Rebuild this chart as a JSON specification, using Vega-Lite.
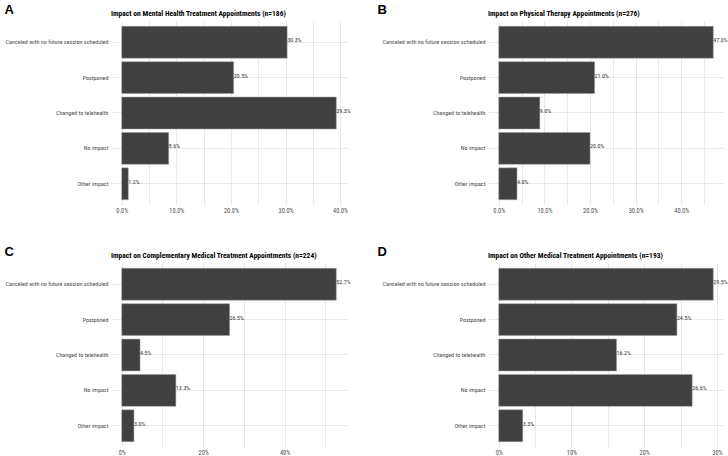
{
  "$schema": "https://vega.github.io/schema/vega-lite/v6.json",
  "background": "white",
  "padding": {"left": 4, "top": 3, "right": 2, "bottom": 2},
  "data": {"values": [
    {"panel": "A", "impact": "Canceled with no future session scheduled", "pct": 0.303},
    {"panel": "A", "impact": "Postponed", "pct": 0.205},
    {"panel": "A", "impact": "Changed to telehealth", "pct": 0.393},
    {"panel": "A", "impact": "No impact", "pct": 0.086},
    {"panel": "A", "impact": "Other impact", "pct": 0.012},
    {"panel": "B", "impact": "Canceled with no future session scheduled", "pct": 0.470},
    {"panel": "B", "impact": "Postponed", "pct": 0.210},
    {"panel": "B", "impact": "Changed to telehealth", "pct": 0.090},
    {"panel": "B", "impact": "No impact", "pct": 0.200},
    {"panel": "B", "impact": "Other impact", "pct": 0.040},
    {"panel": "C", "impact": "Canceled with no future session scheduled", "pct": 0.527},
    {"panel": "C", "impact": "Postponed", "pct": 0.265},
    {"panel": "C", "impact": "Changed to telehealth", "pct": 0.045},
    {"panel": "C", "impact": "No impact", "pct": 0.133},
    {"panel": "C", "impact": "Other impact", "pct": 0.030},
    {"panel": "D", "impact": "Canceled with no future session scheduled", "pct": 0.295},
    {"panel": "D", "impact": "Postponed", "pct": 0.245},
    {"panel": "D", "impact": "Changed to telehealth", "pct": 0.162},
    {"panel": "D", "impact": "No impact", "pct": 0.266},
    {"panel": "D", "impact": "Other impact", "pct": 0.033}
  ]},
  "bounds": "flush",
  "columns": 2,
  "spacing": {"row": 58, "column": 141},
  "concat": [
    {
      "width": 236, "height": 184,
      "transform": [{"filter": "datum.panel == 'A'"}],
      "title": {"text": "Impact on Mental Health Treatment Appointments (n=186)"},
      "encoding": {
        "y": {"field": "impact", "type": "nominal", "sort": ["Canceled with no future session scheduled", "Postponed", "Changed to telehealth", "No impact", "Other impact"], "scale": {"paddingInner": 0.1, "paddingOuter": 0.15}, "axis": {"title": "A", "titleX": -107, "titleY": -8}},
        "x": {"field": "pct", "type": "quantitative", "scale": {"domain": [-0.01965, 0.41265], "nice": false, "zero": false}, "axis": {"title": null, "format": ".1%", "values": [0, 0.05, 0.1, 0.15, 0.2, 0.25, 0.3, 0.35, 0.4], "labelExpr": "round(datum.value*100) % 10 == 0 ? datum.label : ''"}}
      },
      "layer": [
        {"mark": {"type": "bar", "fill": "#404040", "stroke": "#9a9a9a", "strokeWidth": 0.5}},
        {"mark": {"type": "text", "align": "left", "baseline": "middle", "dy": -2}, "encoding": {"text": {"field": "pct", "type": "quantitative", "format": ".1%"}}}
      ]
    },
    {
      "width": 236, "height": 184,
      "transform": [{"filter": "datum.panel == 'B'"}],
      "title": {"text": "Impact on Physical Therapy Appointments (n=276)"},
      "encoding": {
        "y": {"field": "impact", "type": "nominal", "sort": ["Canceled with no future session scheduled", "Postponed", "Changed to telehealth", "No impact", "Other impact"], "scale": {"paddingInner": 0.1, "paddingOuter": 0.15}, "axis": {"title": "B", "titleX": -111, "titleY": -8}},
        "x": {"field": "pct", "type": "quantitative", "scale": {"domain": [-0.0235, 0.4935], "nice": false, "zero": false}, "axis": {"title": null, "format": ".1%", "values": [0, 0.05, 0.1, 0.15, 0.2, 0.25, 0.3, 0.35, 0.4, 0.45], "labelExpr": "round(datum.value*100) % 10 == 0 ? datum.label : ''"}}
      },
      "layer": [
        {"mark": {"type": "bar", "fill": "#404040", "stroke": "#9a9a9a", "strokeWidth": 0.5}},
        {"mark": {"type": "text", "align": "left", "baseline": "middle", "dy": -2}, "encoding": {"text": {"field": "pct", "type": "quantitative", "format": ".1%"}}}
      ]
    },
    {
      "width": 236, "height": 184,
      "transform": [{"filter": "datum.panel == 'C'"}],
      "title": {"text": "Impact on Complementary Medical Treatment Appointments (n=224)"},
      "encoding": {
        "y": {"field": "impact", "type": "nominal", "sort": ["Canceled with no future session scheduled", "Postponed", "Changed to telehealth", "No impact", "Other impact"], "scale": {"paddingInner": 0.1, "paddingOuter": 0.15}, "axis": {"title": "C", "titleX": -107, "titleY": -8}},
        "x": {"field": "pct", "type": "quantitative", "scale": {"domain": [-0.02635, 0.55335], "nice": false, "zero": false}, "axis": {"title": null, "format": ".0%", "values": [0, 0.1, 0.2, 0.3, 0.4, 0.5], "labelExpr": "round(datum.value*100) % 20 == 0 ? datum.label : ''"}}
      },
      "layer": [
        {"mark": {"type": "bar", "fill": "#404040", "stroke": "#9a9a9a", "strokeWidth": 0.5}},
        {"mark": {"type": "text", "align": "left", "baseline": "middle", "dy": -2}, "encoding": {"text": {"field": "pct", "type": "quantitative", "format": ".1%"}}}
      ]
    },
    {
      "width": 236, "height": 184,
      "transform": [{"filter": "datum.panel == 'D'"}],
      "title": {"text": "Impact on Other Medical Treatment Appointments (n=193)"},
      "encoding": {
        "y": {"field": "impact", "type": "nominal", "sort": ["Canceled with no future session scheduled", "Postponed", "Changed to telehealth", "No impact", "Other impact"], "scale": {"paddingInner": 0.1, "paddingOuter": 0.15}, "axis": {"title": "D", "titleX": -111, "titleY": -8}},
        "x": {"field": "pct", "type": "quantitative", "scale": {"domain": [-0.01475, 0.30975], "nice": false, "zero": false}, "axis": {"title": null, "format": ".0%", "values": [0, 0.05, 0.1, 0.15, 0.2, 0.25, 0.3], "labelExpr": "round(datum.value*100) % 10 == 0 ? datum.label : ''"}}
      },
      "layer": [
        {"mark": {"type": "bar", "fill": "#404040", "stroke": "#9a9a9a", "strokeWidth": 0.5}},
        {"mark": {"type": "text", "align": "left", "baseline": "middle", "dy": -2}, "encoding": {"text": {"field": "pct", "type": "quantitative", "format": ".1%"}}}
      ]
    }
  ],
  "config": {
    "view": {"stroke": null},
    "text": {"font": "Roboto Condensed, DejaVu Sans Condensed, Liberation Sans", "fontSize": 6, "color": "#333333"},
    "title": {"anchor": "start", "frame": "group", "font": "Roboto Condensed, DejaVu Sans Condensed, Liberation Sans", "fontSize": 7.5, "fontWeight": "bold", "color": "#000000", "baseline": "alphabetic", "offset": -14.5},
    "axis": {
      "labelFont": "Roboto Condensed, DejaVu Sans Condensed, Liberation Sans",
      "labelColor": "#4d4d4d",
      "labelFontSize": 6.1,
      "ticks": false,
      "domain": false,
      "grid": true,
      "gridColor": "#dedede",
      "gridWidth": 0.7,
      "titleFont": "Liberation Sans",
      "titleFontSize": 13,
      "titleFontWeight": "bold",
      "titleColor": "#000000",
      "titleAngle": 0,
      "titleAlign": "left",
      "titleBaseline": "alphabetic"
    },
    "axisY": {"labelPadding": 3, "bandPosition": 0.5},
    "axisX": {"labelPadding": 2, "labelFontSize": 6.3}
  }
}
